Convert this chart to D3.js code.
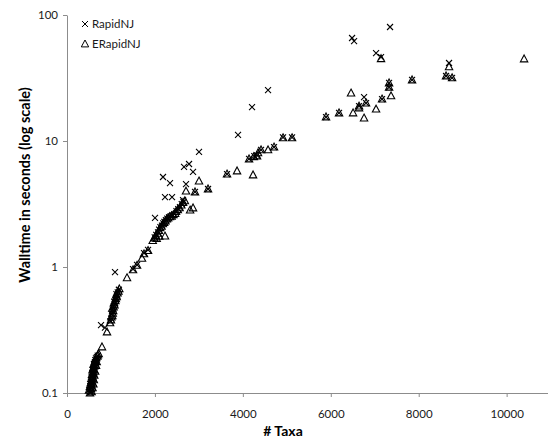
<!DOCTYPE html>
<html>
<head>
  <meta charset="utf-8">
  <title>Walltime vs taxa</title>
  <script src="https://d3js.org/d3.v7.min.js"></script>
  <style>
    body { margin: 0; background: #fff; }
    text { font-family: Lato, "Open Sans", sans-serif; }
  </style>
</head>
<body>
  <svg id="chart"></svg>
  <script>
    // [# taxa, walltime in seconds]
    const erapidnj = [
      [523,0.100],[560,0.102],[500,0.105],[545,0.108],[580,0.110],[520,0.112],[550,0.116],[600,0.118],
      [540,0.120],[560,0.125],[610,0.127],[555,0.130],[575,0.135],[620,0.138],[570,0.140],[590,0.146],
      [640,0.149],[580,0.152],[600,0.158],[615,0.163],[660,0.165],[605,0.168],[630,0.174],[675,0.177],
      [640,0.180],[650,0.186],[665,0.190],[690,0.196],[700,0.200],[720,0.205],[796,0.232],
      [910,0.305],[980,0.36],[1000,0.38],[1010,0.40],[1030,0.41],[1040,0.43],[1050,0.45],[1030,0.47],
      [1060,0.48],[1080,0.50],[1070,0.52],[1100,0.54],[1110,0.56],[1130,0.58],[1120,0.60],[1150,0.62],
      [1170,0.64],[1190,0.67],
      [1365,0.82],[1502,0.95],[1593,1.03],[1706,1.17],[1752,1.27],[1843,1.35],
      [1950,1.62],[1990,1.70],[2040,1.68],[2020,1.78],[2060,1.85],[2100,1.75],[2090,1.95],[2120,2.05],
      [2150,2.10],[2180,2.20],[2229,1.76],[2210,2.25],[2240,2.32],[2270,2.40],[2300,2.45],[2340,2.50],
      [2380,2.52],[2420,2.60],[2460,2.65],[2480,2.75],[2520,2.85],[2560,2.95],[2600,3.10],[2640,3.25],
      [2680,3.35],[2800,2.83],[2867,2.94],
      [2707,4.0],[2912,3.94],[3003,4.81],[3208,4.16],[3640,5.46],[3868,5.78],[4232,5.37],[4141,7.2],
      [4250,7.5],[4323,7.6],[4345,8.05],[4414,8.5],[4573,8.5],[4709,8.95],[4914,10.6],[5119,10.6],
      [5892,15.5],[6188,16.7],[6507,16.7],[6643,18.3],[6643,18.9],[6757,15.2],[6802,20.0],[7030,17.9],
      [7166,21.5],[7371,22.8],[6461,24.0],[7326,26.7],[7326,28.9],[7849,30.5],[8622,32.8],[8759,31.7],
      [8690,38.8],[7143,45.0],[10397,44.8]
    ];

    const rapidnj = [
      [525,0.101],[565,0.103],[505,0.106],[548,0.110],[585,0.112],[530,0.114],[555,0.118],[605,0.120],
      [545,0.123],[565,0.128],[615,0.130],[560,0.133],[580,0.138],[625,0.140],[578,0.143],[595,0.148],
      [645,0.151],[590,0.155],[605,0.160],[620,0.166],[665,0.168],[612,0.170],[635,0.176],[645,0.182],
      [660,0.188],[680,0.193],[700,0.198],
      [774,0.346],[864,0.33],
      [985,0.37],[1005,0.39],[1020,0.42],[1045,0.44],[1040,0.46],[1065,0.49],[1085,0.51],[1075,0.53],
      [1105,0.55],[1115,0.57],[1135,0.59],[1125,0.61],[1155,0.63],[1180,0.66],[1092,0.91],
      [1502,0.96],[1593,1.04],[1752,1.29],[1843,1.37],
      [2002,2.45],[1995,1.72],[2030,1.80],[2070,1.88],[2095,1.98],[2125,2.07],[2160,2.13],[2190,2.22],
      [2215,2.28],[2250,2.35],[2280,2.42],[2320,2.48],[2360,2.52],[2400,2.58],[2440,2.63],[2490,2.78],
      [2530,2.88],[2570,2.98],[2610,3.15],[2650,3.28],[2639,3.4],[2229,3.59],[2389,3.59],[2184,5.18],
      [2343,4.64],[2707,4.55],[2662,6.22],[2776,6.57],[2867,5.68],[2912,3.94],[3003,8.2],[3208,4.16],
      [3640,5.46],[3890,11.2],[4141,7.2],[4260,7.6],[4323,7.7],[4414,8.5],[4209,18.6],[4573,25.3],
      [4709,8.95],[4914,10.7],[5119,10.7],[5892,15.5],[6188,16.7],[6643,18.9],[6757,22.3],[6802,20.0],
      [7166,21.5],[7326,26.7],[7326,28.9],[7849,30.5],[8622,32.8],[8759,31.7],[8690,41.6],[6484,65.7],
      [6530,62.0],[7030,49.9],[7143,46.4],[7348,80.3]
    ];

    const xTicks = [0, 2000, 4000, 6000, 8000, 10000];
    const yTicks = [0.1, 1, 10, 100];
    const yTickLabels = ["0.1", "1", "10", "100"];
    const seriesNames = ["RapidNJ", "ERapidNJ"];

    const width = 548, height = 438;
    const axisColor = "#8c8c8c";

    const svg = d3.select("#chart")
      .attr("width", width)
      .attr("height", height);

    const x = d3.scaleLinear().domain([0, 11000]).range([67, 550.6]);
    const y = d3.scaleLog().domain([0.1, 100]).range([393, 15]);

    // x axis
    const gx = svg.append("g")
      .attr("transform", "translate(0,393)")
      .call(d3.axisBottom(x).tickValues(xTicks).tickFormat(d3.format("d"))
        .tickSize(4).tickSizeOuter(0).tickPadding(13));
    // y axis
    const gy = svg.append("g")
      .attr("transform", "translate(67,0)")
      .call(d3.axisLeft(y).tickValues(yTicks).tickFormat((d, i) => yTickLabels[i])
        .tickSize(4).tickSizeOuter(0).tickPadding(5));

    [gx, gy].forEach(g => {
      g.select(".domain").attr("stroke", axisColor);
      g.selectAll(".tick line").attr("stroke", axisColor);
      g.selectAll(".tick text")
        .attr("fill", "#1a1a1a")
        .style("font-size", "11.5px")
        .style("font-family", "Lato, 'Open Sans', sans-serif");
    });

    // axis titles
    svg.append("text")
      .attr("x", 283)
      .attr("y", 436)
      .attr("text-anchor", "middle")
      .style("font-size", "14px")
      .style("font-weight", "bold")
      .text("# Taxa");

    svg.append("text")
      .attr("transform", "translate(30,185) rotate(-90)")
      .attr("text-anchor", "middle")
      .style("font-size", "14.5px")
      .style("font-weight", "bold")
      .text("Walltime in seconds (log scale)");

    // marker shapes
    const crossPath = "M-3,-3L3,3M-3,3L3,-3";
    const triPath = "M0,-4L3.7,2.9L-3.7,2.9Z";

    svg.append("g")
      .selectAll("path")
      .data(erapidnj)
      .join("path")
      .attr("transform", d => `translate(${x(d[0])},${y(d[1])})`)
      .attr("d", triPath)
      .attr("fill", "none")
      .attr("stroke", "#000")
      .attr("stroke-width", 1.1);

    svg.append("g")
      .selectAll("path")
      .data(rapidnj)
      .join("path")
      .attr("transform", d => `translate(${x(d[0])},${y(d[1])})`)
      .attr("d", crossPath)
      .attr("fill", "none")
      .attr("stroke", "#000")
      .attr("stroke-width", 1.1);

    // legend
    const legend = svg.append("g");
    const legendShapes = [crossPath, triPath];
    seriesNames.forEach((name, i) => {
      const ly = 24 + i * 20;
      legend.append("path")
        .attr("transform", `translate(85,${ly})`)
        .attr("d", legendShapes[i])
        .attr("fill", "none")
        .attr("stroke", "#000")
        .attr("stroke-width", 1);
      legend.append("text")
        .attr("x", 92)
        .attr("y", ly + 4)
        .style("font-size", "11.5px")
        .attr("fill", "#1a1a1a")
        .text(name);
    });
  </script>
</body>
</html>
